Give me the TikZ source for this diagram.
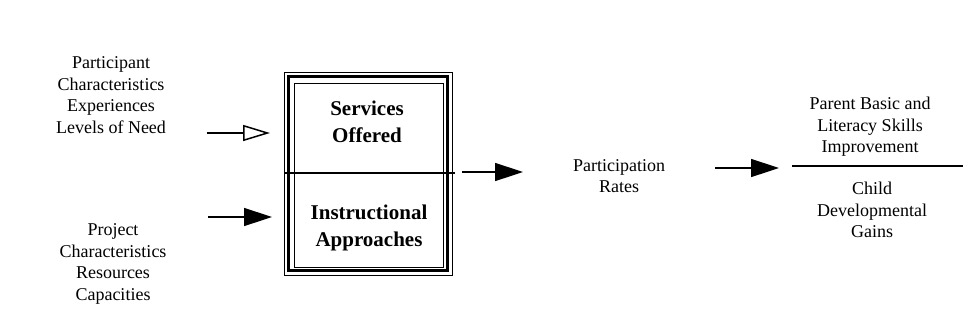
\documentclass[tikz,border=0pt]{standalone}
\usepackage{fontspec}
\setmainfont{Liberation Serif}
\usepackage{tikz}
\usetikzlibrary{arrows.meta}

\begin{document}
\begin{tikzpicture}[x=1pt,y=-1pt,
    txt/.style={align=center, inner sep=0pt, font=\fontsize{18}{21.5}\selectfont},
    boldtxt/.style={align=center, inner sep=0pt, font=\bfseries\fontsize{21}{27}\selectfont},
    openarrow/.style={line width=1.5pt, -{Triangle[open, length=27pt, width=16pt, line width=1.5pt]}},
    fullarrow/.style={line width=1.5pt, -{Triangle[length=28pt, width=18pt]}}]
     \useasboundingbox (0,0) rectangle (963,325);
     % inputs
     \node[txt] (partic) at (111,95) {Participant\\Characteristics\\Experiences\\Levels of Need};
     \node[txt] (project) at (113,264) {Project\\Characteristics\\Resources\\Capacities};
     % program box with triple border
     \draw[line width=1pt] (284,72) rectangle (452,275);
     \draw[line width=3pt] (288.5,76.5) rectangle (447.5,270.5);
     \draw[line width=1pt] (294,83) rectangle (443,267);
     \draw[line width=1.5pt] (284,173) -- (455,173);
     \node[boldtxt] (services) at (367,122) {Services\\Offered};
     \node[boldtxt] (instruct) at (369,228) {Instructional\\Approaches};
     % middle and outcomes
     \node[txt] (rates) at (619,176) {Participation\\Rates};
     \node[txt] (parent) at (870,127) {Parent Basic and\\Literacy Skills\\Improvement};
     \node[txt] (child) at (872,210) {Child\\Developmental\\Gains};
     \draw[line width=2pt] (792,166) -- (963,166);
     % arrows
     \coordinate (a1s) at (207,133); \coordinate (a1e) at (270,133);
     \coordinate (a2s) at (208,217); \coordinate (a2e) at (272,217);
     \coordinate (a3s) at (462,172); \coordinate (a3e) at (523,172);
     \coordinate (a4s) at (715,168); \coordinate (a4e) at (779,168);
     \draw[openarrow] (a1s) -- (a1e);
     \draw[fullarrow] (a2s) -- (a2e);
     \draw[fullarrow] (a3s) -- (a3e);
     \draw[fullarrow] (a4s) -- (a4e);
\end{tikzpicture}
\end{document}
